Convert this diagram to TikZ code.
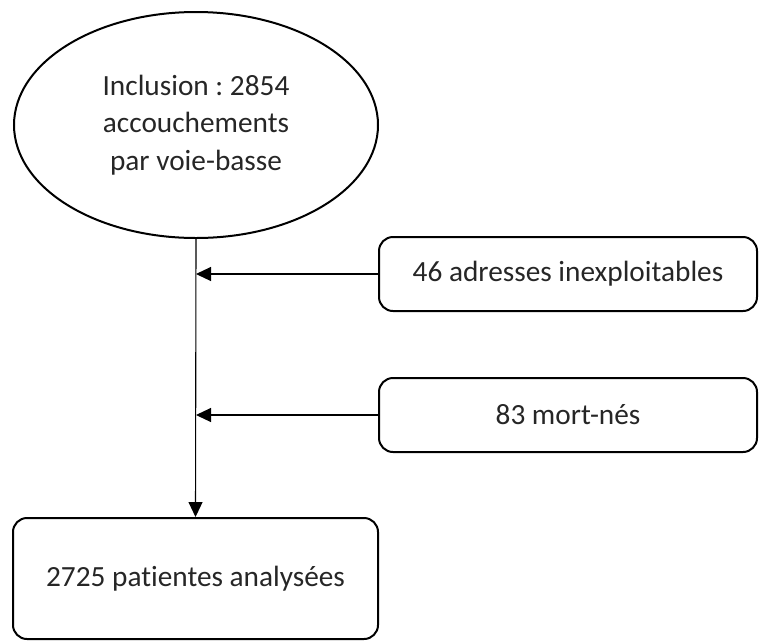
\documentclass[tikz,border=0pt]{standalone}
\usepackage{fontspec}
\setmainfont[Ligatures=NoCommon]{Carlito}
\usetikzlibrary{arrows.meta,shapes.geometric}
\begin{document}
\frenchspacing
\begin{tikzpicture}[x=1pt,y=-1pt,
  txt/.style={font=\fontsize{29.3pt}{37.5pt}\selectfont, text=black!85, align=center},
  rbox/.style={draw, line width=2pt, rounded corners=14pt, inner sep=0pt, txt},
  conn/.style={line width=1.1pt, -{Triangle[length=15pt,width=14pt]}}
]
\useasboundingbox (0,0) rectangle (759,641);
\node[ellipse, draw, line width=2pt, inner sep=0pt, minimum width=364pt, minimum height=226pt, txt] (incl) at (196,125) {Inclusion : 2854\\accouchements\\par voie-basse};
\node[rbox, minimum width=378pt, minimum height=74pt] (b1) at (568,274) {46 adresses inexploitables};
\node[rbox, minimum width=378pt, minimum height=74pt] (b2) at (568,415) {83 mort-nés};
\node[rbox, minimum width=365pt, minimum height=121pt] (res) at (195.5,578.5) {2725 pat\kern0pt ientes analysées};
\coordinate (j1) at (b1.west -| incl.south);
\coordinate (j2) at (b2.west -| incl.south);
\draw[conn] (incl.south) -- (res.north);
\draw[conn] (b1.west) -- (j1);
\draw[conn] (b2.west) -- (j2);
\end{tikzpicture}
\end{document}
